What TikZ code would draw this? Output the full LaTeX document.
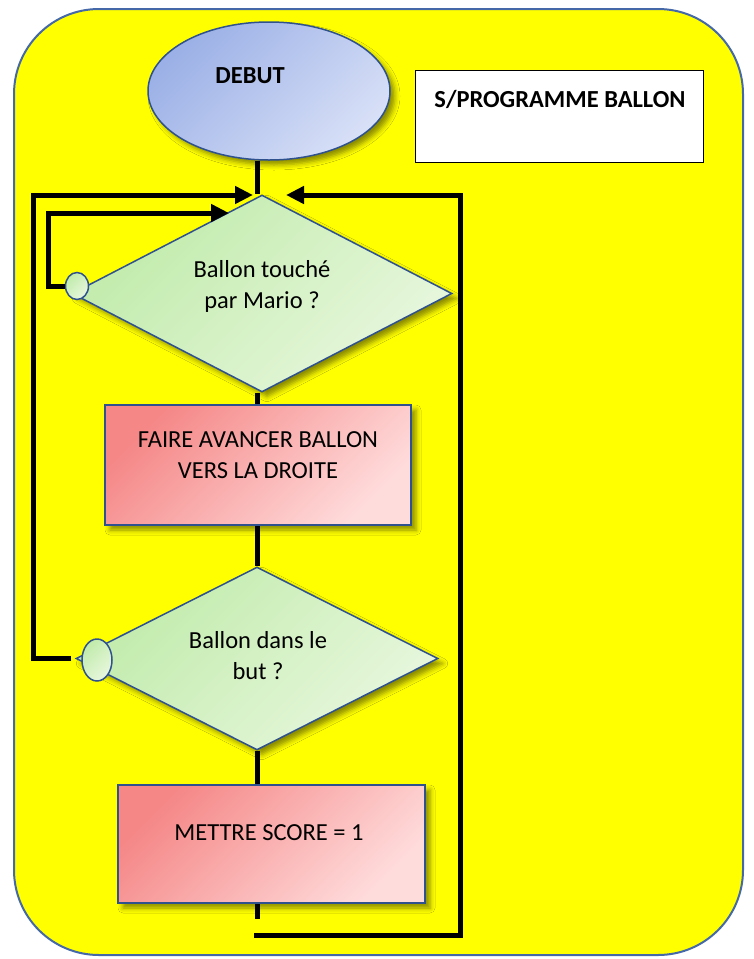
\documentclass[tikz,border=0pt]{standalone}
\usepackage{fontspec}
\setmainfont{Carlito}
\usetikzlibrary{shapes.geometric,arrows.meta,shadows.blur}
\definecolor{frameblue}{RGB}{68,104,168}
\definecolor{shapeblue}{RGB}{47,82,143}
\definecolor{ovaldark}{RGB}{155,176,230}
\definecolor{ovallight}{RGB}{216,224,247}
\definecolor{greendark}{RGB}{192,235,170}
\definecolor{greenlight}{RGB}{232,247,222}
\definecolor{reddark}{RGB}{245,135,135}
\definecolor{redlight}{RGB}{255,220,220}
\definecolor{bgyellow}{RGB}{255,255,0}
\begin{document}
\begin{tikzpicture}[x=1pt,y=-1pt,
  txt/.style={font=\fontsize{24.5}{31}\selectfont, align=center, inner sep=0pt},
  shad/.style={blur shadow={shadow xshift=5pt, shadow yshift=-5pt, shadow blur radius=5pt, shadow opacity=45}},
  base/.style={draw=shapeblue, line width=1.5pt, inner sep=0pt, shad},
  oval/.style={base, ellipse, top color=ovaldark, bottom color=ovallight, shading angle=45},
  decision/.style={base, diamond, top color=greendark, bottom color=greenlight, shading angle=45},
  connector/.style={draw=shapeblue, line width=1.5pt, inner sep=0pt, ellipse, top color=greendark, bottom color=greenlight, shading angle=45},
  process/.style={base, rectangle, top color=reddark, bottom color=redlight, shading angle=45},
  titlebox/.style={draw=black, line width=0.8pt, fill=white, rectangle, inner sep=0pt},
  flow/.style={draw=black, line width=5pt},
  flowarrow/.style={flow, -{Triangle[length=18pt,width=17pt]}}
]
\useasboundingbox (0,0) rectangle (754,959);
\path[draw=frameblue, line width=2pt, fill=bgyellow, rounded corners=85pt] (14,9) rectangle (743,955);

% shapes
\node[oval, minimum width=242pt, minimum height=138pt] (debut) at (269,91) {};
\node[txt, font=\fontsize{24.5}{31}\selectfont\bfseries] (tdebut) at (250,76) {DEBUT};
\node[titlebox, minimum width=288pt, minimum height=92pt] (sp) at (559,116) {};
\node[txt, font=\fontsize{24.5}{31}\selectfont\bfseries] (tsp) at (560,99) {S/PROGRAMME BALLON};

\node[decision, minimum width=380pt, minimum height=197pt] (d1) at (262,293.5) {};
\node[txt] (td1) at (262,286) {Ballon touché\\par Mario ?};

\node[process, minimum width=306pt, minimum height=120pt] (p1) at (258,465) {};
\node[txt] (tp1) at (258,455) {FAIRE AVANCER BALLON\\VERS LA DROITE};

\node[decision, minimum width=362pt, minimum height=183pt] (d2) at (257,658.5) {};
\node[txt] (td2) at (258,655.5) {Ballon dans le\\but ?};

\node[process, minimum width=307pt, minimum height=118pt] (p2) at (271.5,844) {};
\node[txt] (tp2) at (269,833) {METTRE SCORE = 1};

\node[connector, minimum width=23pt, minimum height=27pt] (c1) at (77,286) {};
\node[connector, minimum width=30pt, minimum height=42pt] (c2) at (97,660) {};

% helper coordinates
\coordinate (ax) at (257,0);
\coordinate (l1) at (48,213);
\coordinate (tip1) at (229,213);
\coordinate (l2) at (33,195);
\coordinate (tip2) at (253,195);
\coordinate (e1) at (256,919);
\coordinate (b1) at (254,935);
\coordinate (rt) at (460,195);
\coordinate (tip3) at (286,195);

% connectors
\draw[flow] (ax |- debut.south) -- (ax |- d1.north);
\draw[flow] (ax |- d1.south) -- (ax |- p1.north);
\draw[flow] (ax |- p1.south) -- (ax |- d2.north);
\draw[flow] (ax |- d2.south) -- (ax |- p2.north);
\draw[flow] (ax |- p2.south) -- (ax |- e1);
\draw[flowarrow] (c1.west) -| (l1) -- (tip1);
\draw[flowarrow] ([xshift=-4pt]d2.west) -| (l2) -- (tip2);
\draw[flowarrow] (b1) -| (rt) -- (tip3);
\end{tikzpicture}
\end{document}
